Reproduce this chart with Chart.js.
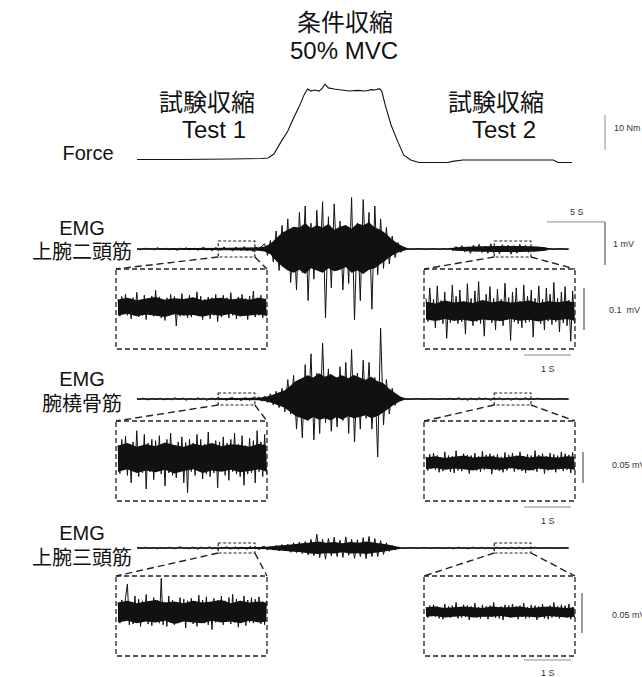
<!doctype html>
<html lang="ja">
<head>
  <meta charset="utf-8">
  <title>条件収縮 50% MVC</title>
  <style>
    * { margin: 0; padding: 0; }
    body {
      width: 642px; height: 677px; position: relative; overflow: hidden; background: white;
      font-family: "Liberation Sans", Arial, "Noto Sans CJK JP", sans-serif; color: #111;
    }
    canvas { position: absolute; }
    svg { position: absolute; left: 0; top: 0; }
    .lbl { position: absolute; transform: translate(-50%, -50%); white-space: nowrap; text-align: center; }
    .big { font-size: 24px; }
    .row { font-size: 20px; }
    .unit { position: absolute; transform: translate(0, -50%); font-size: 9px; color: #333; white-space: nowrap; }
  </style>
</head>
<body>
  <div class="lbl big" style="left:345px; top:20px;">条件収縮</div>
  <div class="lbl big" style="left:344px; top:51px;">50% MVC</div>
  <div class="lbl big" style="left:207px; top:100px;">試験収縮</div>
  <div class="lbl big" style="left:214px; top:130px;">Test 1</div>
  <div class="lbl big" style="left:496px; top:100px;">試験収縮</div>
  <div class="lbl big" style="left:504px; top:130px;">Test 2</div>

  <div class="lbl row" style="left:88px; top:153px;">Force</div>
  <div class="lbl row" style="left:82px; top:228px;">EMG</div>
  <div class="lbl row" style="left:82px; top:250px;">上腕二頭筋</div>
  <div class="lbl row" style="left:82px; top:379px;">EMG</div>
  <div class="lbl row" style="left:82px; top:402px;">腕橈骨筋</div>
  <div class="lbl row" style="left:82px; top:533px;">EMG</div>
  <div class="lbl row" style="left:82px; top:556px;">上腕三頭筋</div>

  <div class="unit" style="left:614px; top:128px;">10 Nm</div>
  <div class="unit" style="left:570px; top:212px;">5 S</div>
  <div class="unit" style="left:613px; top:244px;">1 mV</div>
  <div class="unit" style="left:609px; top:310px;">0.1&nbsp; mV</div>
  <div class="unit" style="left:541px; top:369px;">1 S</div>
  <div class="unit" style="left:612px; top:465px;">0.05 mV</div>
  <div class="unit" style="left:541px; top:521px;">1 S</div>
  <div class="unit" style="left:612px; top:615px;">0.05 mV</div>
  <div class="unit" style="left:541px; top:673px;">1 S</div>

  <canvas id="force"></canvas>
  <canvas id="emg1"></canvas>
  <canvas id="emg2"></canvas>
  <canvas id="emg3"></canvas>
  <canvas id="emg1L"></canvas>
  <canvas id="emg1R"></canvas>
  <canvas id="emg2L"></canvas>
  <canvas id="emg2R"></canvas>
  <canvas id="emg3L"></canvas>
  <canvas id="emg3R"></canvas>
  <svg id="boxes" width="642" height="677"></svg>

  <script src="https://cdn.jsdelivr.net/npm/chart.js"></script>
  <script>
    // ---- data ----
    // force (Nm) over time (s)
    const forceTimeS = [0, 3.8, 8.1, 10.7, 11.3, 11.8, 12.4, 13.0, 13.5, 14.0, 14.4, 14.7, 15.0, 15.3, 15.7, 16.0, 16.2, 16.5, 17.0, 17.6,
      18.3, 19.0, 19.7, 20.2, 20.5, 20.9, 21.1, 21.4, 21.9, 22.5, 23.0, 23.6, 24.3, 26.8, 27.2, 28.1, 31.4, 35.7, 35.9, 36.3, 37.5];
    const forceNm = [0.15, 0.15, 0.3, 0.45, 0.55, 1.7, 5.1, 8.3, 12.0, 15.4, 18.6, 20.3, 19.7, 20.0, 19.7, 20.6, 21.7, 20.6, 20.3, 20.0,
      19.7, 19.9, 19.7, 20.1, 20.0, 20.4, 19.7, 15.7, 10.0, 5.1, 1.4, 0, -0.7, -0.7, -0.4, 0, 0, 0, 0, -0.7, -0.7];

    // raw EMG (mV), one sample every 0.25 s
    const emgStepS = 0.25;
    const emgBiceps = [
      0.01,-0.02,0.0,0.02,-0.01,0.01,-0.02,0.03,0.0,-0.01,
      0.02,-0.02,0.01,0.0,-0.03,0.02,-0.01,0.03,-0.02,0.0,
      0.02,-0.03,0.01,0.04,-0.02,0.0,-0.04,0.03,0.01,-0.03,
      0.05,-0.02,0.02,-0.05,0.04,0.0,-0.03,0.06,-0.04,0.02,
      -0.06,0.05,-0.03,0.07,
      0.12,-0.15,0.2,-0.3,0.42,-0.5,0.55,-0.4,0.7,-0.78,
      0.5,-0.95,0.85,-0.55,1.0,-1.2,0.6,-0.7,0.9,-0.45,
      1.1,-1.6,0.75,-0.9,1.05,-0.5,0.65,-0.95,0.45,-0.8,
      1.2,-1.65,0.6,-1.2,1.15,-0.5,0.85,-1.4,1.0,-0.6,
      0.7,-0.45,0.5,-0.35,0.3,-0.2,0.15,-0.08,0.04,
      0.01,0,-0.01,0,0.01,0,0,-0.01,0,0.01,0,-0.01,0,0.01,-0.01,0.02,
      -0.04,0.06,-0.03,0.08,-0.07,0.05,-0.1,0.09,-0.06,0.11,
      -0.08,0.07,-0.1,0.12,-0.09,0.06,-0.11,0.1,-0.07,0.09,
      -0.12,0.08,-0.1,0.11,-0.06,0.09,-0.08,0.07,-0.06,0.05,
      -0.04,0.03,
      0,0.01,0,-0.01,0,0.01,0,-0.01,0];
    const emgBrachiorad = [
      0.01,-0.01,0.02,0.0,-0.02,0.01,0.0,-0.01,0.02,-0.02,
      0.0,0.01,-0.02,0.03,-0.01,0.0,0.02,-0.03,0.01,0.0,
      -0.02,0.03,-0.01,0.02,-0.03,0.0,0.02,-0.02,0.04,-0.01,
      0.0,-0.03,0.02,0.03,-0.02,0.0,-0.04,0.03,0.01,-0.03,
      0.04,-0.02,0.05,-0.05,0.07,-0.08,
      0.12,-0.14,0.18,-0.2,0.25,-0.3,0.45,-0.35,0.55,-0.7,
      0.4,-0.9,0.8,-0.5,1.05,-0.95,0.6,-0.8,1.3,-0.55,
      0.7,-0.75,0.45,-0.65,0.75,-0.5,0.85,-0.8,1.15,-1.0,
      0.6,-0.7,0.9,-0.45,0.85,-0.7,0.5,-1.35,1.65,-0.6,
      0.45,-0.35,0.25,-0.15,0.08,-0.04,
      0.01,0,-0.01,0,0,0.01,0,-0.01,0,0.01,0,0,-0.01,0,0.01,-0.01,
      0.02,-0.01,0.0,0.03,-0.02,0.01,-0.03,0.02,0.0,-0.02,
      0.03,-0.01,0.02,0.0,-0.03,0.02,-0.01,0.03,-0.02,0.0,
      0.02,-0.03,0.01,0.02,-0.02,0.0,0.03,-0.02,0.01,-0.01,
      0.02,0.0,-0.01,
      0,0.01,0,-0.01,0,0.01,0,0,0];
    const emgTriceps = [
      0.01,0.0,-0.01,0.02,-0.01,0.0,0.01,-0.02,0.01,0.0,
      -0.01,0.02,0.0,-0.02,0.01,0.03,-0.01,0.0,-0.02,0.02,
      0.01,-0.03,0.02,0.0,-0.01,0.03,-0.02,0.01,-0.03,0.02,
      0.0,0.03,-0.02,-0.01,0.03,-0.03,0.02,0.0,-0.03,0.04,
      -0.02,0.03,-0.04,0.02,0.04,-0.05,
      0.04,-0.05,0.06,-0.07,0.08,-0.07,0.09,-0.1,0.12,-0.11,
      0.14,-0.13,0.15,-0.16,0.2,-0.18,0.32,-0.22,0.2,-0.26,
      0.22,-0.18,0.25,-0.2,0.18,-0.22,0.26,-0.17,0.2,-0.24,
      0.19,-0.2,0.24,-0.25,0.27,-0.2,0.22,-0.2,0.17,-0.15,
      0.12,-0.08,0.06,-0.04,
      0.02,0,-0.01,0,0.01,0,0,-0.01,0,0.01,0,-0.01,0,0,0.01,0,-0.01,0,
      0.01,-0.02,0.0,0.02,-0.01,0.01,-0.02,0.0,0.02,-0.01,
      0.0,0.02,-0.02,0.01,0.0,-0.02,0.02,-0.01,0.0,0.01,
      -0.02,0.02,0.0,-0.01,0.02,-0.02,0.0,0.01,-0.01,0.02,
      0.0,-0.01,0.01,
      0,0.01,0,-0.01,0,0,0.01,0,0];

    // dense part of each trace (mV): times, upper and lower edge
    const bicepsCoreT = [0, 5, 8, 10.5, 11.0, 11.5, 12.0, 12.5, 13.0, 13.5, 14.0, 14.5, 15.0, 15.5, 16.0, 16.5, 17.0, 17.5, 18.0, 18.5,
      19.0, 19.5, 20.0, 20.5, 21.0, 21.5, 22.0, 22.5, 23.0, 23.3, 27, 27.5, 29, 31, 33, 34.5, 35.2, 35.5, 37.2];
    const bicepsCoreUp = [0.02, 0.025, 0.03, 0.04, 0.06, 0.12, 0.25, 0.38, 0.45, 0.52, 0.5, 0.6, 0.48, 0.55, 0.5, 0.58, 0.45, 0.52, 0.56, 0.47,
      0.6, 0.55, 0.62, 0.5, 0.45, 0.35, 0.22, 0.12, 0.05, 0.02, 0.02, 0.04, 0.06, 0.07, 0.07, 0.06, 0.04, 0.02, 0.02];
    const bicepsCoreDown = [-0.02, -0.025, -0.03, -0.04, -0.06, -0.12, -0.28, -0.4, -0.5, -0.55, -0.48, -0.58, -0.45, -0.5, -0.55, -0.45, -0.52, -0.48, -0.42, -0.55,
      -0.5, -0.58, -0.48, -0.45, -0.35, -0.25, -0.15, -0.08, -0.04, -0.02, -0.02, -0.04, -0.06, -0.07, -0.07, -0.06, -0.04, -0.02, -0.02];
    const brachioCoreT = [0, 6, 10.5, 11.2, 11.7, 12.2, 12.7, 13.2, 13.7, 14.2, 14.7, 15.2, 15.7, 16.2, 16.7, 17.2, 17.7, 18.2, 18.7, 19.2,
      19.7, 20.2, 20.7, 21.2, 21.7, 22.2, 22.7, 23.1, 27, 35.5, 37.2];
    const brachioCoreUp = [0.02, 0.02, 0.03, 0.06, 0.1, 0.15, 0.2, 0.3, 0.42, 0.48, 0.55, 0.5, 0.6, 0.52, 0.58, 0.5, 0.55, 0.48, 0.56, 0.5,
      0.45, 0.52, 0.42, 0.38, 0.25, 0.15, 0.06, 0.02, 0.02, 0.02, 0.02];
    const brachioCoreDown = [-0.02, -0.02, -0.03, -0.06, -0.1, -0.15, -0.2, -0.3, -0.4, -0.45, -0.5, -0.42, -0.48, -0.45, -0.5, -0.42, -0.48, -0.4, -0.45, -0.42,
      -0.38, -0.45, -0.4, -0.32, -0.22, -0.12, -0.05, -0.02, -0.02, -0.02, -0.02];
    const tricepsCoreT = [0, 6, 10.5, 11.2, 12.0, 12.8, 13.5, 14.2, 14.9, 15.6, 16.3, 17.0, 17.7, 18.4, 19.1, 19.8, 20.5, 21.2, 21.8, 22.3,
      22.7, 27, 35.5, 37.2];
    const tricepsCoreUp = [0.015, 0.02, 0.025, 0.03, 0.05, 0.07, 0.09, 0.11, 0.13, 0.15, 0.12, 0.14, 0.11, 0.14, 0.12, 0.15, 0.12, 0.1, 0.07, 0.04,
      0.02, 0.015, 0.015, 0.015];
    const tricepsCoreDown = [-0.015, -0.02, -0.025, -0.03, -0.05, -0.07, -0.09, -0.1, -0.13, -0.14, -0.12, -0.13, -0.1, -0.13, -0.12, -0.14, -0.11, -0.09, -0.06, -0.04,
      -0.02, -0.015, -0.015, -0.015];

    // zoomed windows (start time, s) for Test 1 / Test 2
    const zoomStartS = [7.0, 30.8];

    // zoomed EMG (µV), one sample every 0.04 s
    const insetStepS = 0.04;
    const bicepsTest1 = [
      18,-22,25,-15,30,-20,12,-28,22,-18,35,-24,16,-20,28,-30,20,-14,26,-22,
      40,-18,24,-26,15,-32,22,-20,30,-16,25,-45,18,-22,32,-20,14,-26,28,-24,
      20,-18,36,-22,26,-30,18,-16,24,-28,22,-20,30,-35,16,-24,28,-18,22,-26,
      34,-20,18,-28,24,-22,30,-16,20,-30,26,-18,38,-24,22,-20,28,-26,18,-22];
    const bicepsTest2 = [
      30,-25,55,-20,28,-40,60,-22,25,-30,45,-65,20,-28,62,-24,35,-30,50,-26,
      22,-55,65,-20,30,-35,48,-25,70,-30,26,-60,40,-22,58,-28,30,-45,52,-24,
      28,-35,66,-20,32,-70,45,-26,55,-30,24,-40,62,-28,35,-25,50,-62,30,-22,
      60,-30,28,-45,55,-24,40,-32,68,-26,30,-50,45,-28,58,-35,26,-72,48,-30];
    const brachioTest1 = [
      20,-25,30,-18,35,-28,22,-40,26,-20,44,-30,18,-24,38,-50,24,-22,30,-35,
      28,-20,36,-26,22,-45,30,-24,40,-28,20,-32,26,-22,34,-40,25,-56,30,-22,
      24,-28,38,-20,30,-34,22,-26,42,-30,20,-24,28,-48,26,-20,34,-28,24,-36,
      30,-22,40,-26,22,-30,36,-44,20,-26,32,-24,28,-40,44,-22,26,-30,38,-25];
    const brachioTest2 = [
      10,-12,14,-9,16,-11,12,-15,9,-13,18,-10,12,-14,11,-16,20,-12,10,-13,
      15,-9,13,-17,12,-10,16,-12,11,-14,19,-11,13,-10,15,-18,12,-11,14,-13,
      10,-15,17,-12,13,-9,16,-14,12,-11,18,-13,11,-16,14,-10,12,-12,20,-14,
      13,-10,15,-17,11,-12,16,-11,14,-15,12,-10,18,-13,15,-11,13,-16,17,-12];
    const tricepsTest1 = [
      12,-14,15,-10,18,35,-16,12,-15,20,-12,16,-18,14,-11,22,-15,13,-17,18,
      -12,15,-14,42,-16,12,-18,20,-13,15,-16,11,-14,18,-12,16,-20,14,-11,17,
      -15,13,-18,21,-12,15,-14,19,-16,12,-22,17,-13,15,-11,20,-16,14,-12,18,
      -15,22,-13,16,-19,14,-12,20,-17,15,-13,18,-14,16,-12,19,-15,13,-16,14];
    const tricepsTest2 = [
      6,-7,8,-5,9,-6,7,-8,5,-9,10,-6,7,-7,8,-5,12,-8,6,-7,
      9,-6,8,-10,7,-5,11,-7,6,-8,9,-6,7,-9,8,-6,12,-7,6,-8,
      7,-10,9,-6,8,-7,10,-5,7,-9,8,-6,11,-8,6,-7,9,-6,8,-10,
      7,-6,10,-8,6,-9,8,-7,12,-6,7,-8,9,-5,8,-7,10,-9,6,-7];

    // dense band of each zoom (µV), edge every 0.2 s
    const insetCoreT = [0, 0.2, 0.4, 0.6, 0.8, 1.0, 1.2, 1.4, 1.6, 1.8, 2.0, 2.2, 2.4, 2.6, 2.8, 3.0, 3.16];
    const bicepsT1Up = [18, 22, 16, 20, 24, 17, 21, 19, 23, 16, 20, 22, 18, 21, 17, 22, 19];
    const bicepsT1Down = [-20, -16, -22, -18, -21, -24, -17, -20, -19, -23, -18, -21, -16, -22, -20, -18, -21];
    const bicepsT2Up = [22, 18, 25, 20, 23, 19, 26, 21, 24, 20, 22, 25, 19, 23, 21, 24, 20];
    const bicepsT2Down = [-20, -24, -19, -23, -21, -25, -20, -22, -24, -19, -23, -21, -25, -20, -22, -19, -23];
    const brachioT1Up = [20, 24, 18, 22, 19, 25, 21, 18, 23, 20, 24, 19, 22, 21, 18, 23, 20];
    const brachioT1Down = [-22, -18, -24, -20, -23, -19, -25, -21, -18, -24, -20, -22, -19, -23, -21, -18, -22];
    const brachioT2Up = [9, 11, 8, 10, 12, 9, 10, 11, 8, 10, 12, 9, 11, 10, 9, 11, 10];
    const brachioT2Down = [-10, -8, -11, -9, -10, -12, -9, -10, -11, -8, -10, -12, -9, -11, -10, -9, -11];
    const tricepsT1Up = [12, 14, 11, 13, 15, 12, 13, 11, 14, 12, 13, 15, 11, 14, 12, 13, 12];
    const tricepsT1Down = [-13, -11, -14, -12, -13, -11, -15, -12, -13, -14, -11, -13, -12, -14, -11, -13, -12];
    const tricepsT2Up = [6, 7, 5, 6, 7, 6, 5, 7, 6, 6, 7, 5, 6, 7, 6, 5, 6];
    const tricepsT2Down = [-6, -5, -7, -6, -5, -7, -6, -6, -5, -7, -6, -6, -7, -5, -6, -7, -6];

    // scale bars: 10 Nm, 5 S, 1 mV, 1 S, 0.1 mV, 0.05 mV, 0.05 mV
    const barNm = 10, barMainS = 5, barMainMv = 1, barInsetS = 1;
    const barInsetUv = [100, 50, 50];

    // ---- layout ----
    const pxPerSec = 11.6, pxPerNm = 3.5, pxPerMv = 43, insetPxPerSec = 47;
    const insetPxPerUv = [0.42, 0.62, 0.8];
    const mainLeft = 130, traceZeroX = 137;
    const baselineY = [249, 399, 548];
    const insetTop = [269, 421, 576], insetH = 80, insetW = 151;
    const insetLeft = [116, 424];
    const insetMid = [[307, 311], [458, 463], [612, 612]];
    const smallHalfH = [8, 6, 5];
    const ink = '#111', barGray = '#8c8c8c';

    function pts(times, values) {
      return values.map((v, i) => ({ x: times[i], y: v }));
    }
    function sampled(values, step) {
      return values.map((v, i) => ({ x: i * step, y: v }));
    }
    function line(data, color, width) {
      return { data, borderColor: color, borderWidth: width, pointRadius: 0, fill: false, tension: 0 };
    }
    function band(times, up, down) {
      return [
        { data: pts(times, up), borderWidth: 0, pointRadius: 0, fill: false, tension: 0 },
        { data: pts(times, down), borderWidth: 0, pointRadius: 0, fill: '-1', backgroundColor: ink, tension: 0 }
      ];
    }

    // chart whose scales map straight onto the canvas
    function traceChart(id, box, zeroX, xPer, zeroY, yPer, datasets) {
      const cv = document.getElementById(id);
      cv.width = box.w; cv.height = box.h;
      cv.style.left = box.x + 'px'; cv.style.top = box.y + 'px';
      return new Chart(cv, {
        type: 'line',
        data: { datasets },
        options: {
          responsive: false, animation: false, events: [],
          layout: { padding: 0 },
          plugins: { legend: { display: false }, tooltip: { enabled: false } },
          scales: {
            x: { type: 'linear', display: false, min: -zeroX / xPer, max: (box.w - zeroX) / xPer },
            y: { type: 'linear', display: false, min: (zeroY - box.h) / yPer, max: zeroY / yPer }
          }
        }
      });
    }

    const xZero = traceZeroX - mainLeft;
    const barT = (605 - traceZeroX) / pxPerSec;

    // force
    traceChart('force', { x: mainLeft, y: 70, w: 642 - mainLeft, h: 100 }, xZero, pxPerSec, 90, pxPerNm, [
      line(pts(forceTimeS, forceNm), ink, 1.1),
      line([{ x: barT, y: 2.9 }, { x: barT, y: 2.9 + barNm }], barGray, 1)
    ]);

    // main EMG rows
    const mainRows = [
      { id: 'emg1', top: 185, h: 150, raw: emgBiceps, core: band(bicepsCoreT, bicepsCoreUp, bicepsCoreDown) },
      { id: 'emg2', top: 320, h: 150, raw: emgBrachiorad, core: band(brachioCoreT, brachioCoreUp, brachioCoreDown) },
      { id: 'emg3', top: 520, h: 55, raw: emgTriceps, core: band(tricepsCoreT, tricepsCoreUp, tricepsCoreDown) }
    ];
    const mainCharts = mainRows.map((r, k) => {
      const sets = r.core.concat([line(sampled(r.raw, emgStepS), ink, 1)]);
      if (k === 0) {
        const top = 0.63;
        sets.push(line([{ x: barT - barMainS, y: top }, { x: barT, y: top }, { x: barT, y: top - barMainMv }], barGray, 1));
      }
      return traceChart(r.id, { x: mainLeft, y: r.top, w: 642 - mainLeft, h: r.h }, xZero, pxPerSec,
        baselineY[k] - r.top, pxPerMv, sets);
    });

    // zoomed insets
    const insetData = [[bicepsTest1, bicepsTest2], [brachioTest1, brachioTest2], [tricepsTest1, tricepsTest2]];
    const insetCore = [
      [[bicepsT1Up, bicepsT1Down], [bicepsT2Up, bicepsT2Down]],
      [[brachioT1Up, brachioT1Down], [brachioT2Up, brachioT2Down]],
      [[tricepsT1Up, tricepsT1Down], [tricepsT2Up, tricepsT2Down]]
    ];
    const insetBarY = [355, 507, 660];
    const insetBarX = [584, 583, 582];
    const insetBarTop = [288, 452, 593];
    const ids = [['emg1L', 'emg1R'], ['emg2L', 'emg2R'], ['emg3L', 'emg3R']];
    for (let k = 0; k < 3; k++) {
      for (let s = 0; s < 2; s++) {
        const vals = insetData[k][s];
        const sets = band(insetCoreT, insetCore[k][s][0], insetCore[k][s][1]);
        sets.push(line(sampled(vals, insetStepS), ink, 1));
        const box = { x: insetLeft[s], y: insetTop[k], w: s ? 642 - insetLeft[s] : insetW, h: s ? 95 : insetH };
        const mid = insetMid[k][s];
        const per = insetPxPerUv[k];
        if (s === 1) {
          const t0 = (insetBarX[k] - insetLeft[s] - 2) / insetPxPerSec;
          const hi = (mid - insetBarTop[k]) / per;
          sets.push(line([{ x: t0, y: hi }, { x: t0, y: hi - barInsetUv[k] }], barGray, 1));
          const yb = (mid - insetBarY[k]) / per;
          const tb = (571 - insetLeft[s] - 2) / insetPxPerSec;
          sets.push(line([{ x: tb - barInsetS, y: yb }, { x: tb, y: yb }], barGray, 1.2));
        }
        traceChart(ids[k][s], box, 2, insetPxPerSec, mid - box.y, per, sets);
      }
    }

    // dashed zoom frames and connectors
    const svg = document.getElementById('boxes');
    let svgText = '';
    const win = (bicepsTest1.length - 1) * insetStepS;
    mainCharts.forEach((ch, k) => {
      zoomStartS.forEach((t, s) => {
        const x1 = mainLeft + ch.scales.x.getPixelForValue(t);
        const x2 = mainLeft + ch.scales.x.getPixelForValue(t + win);
        const y1 = baselineY[k] - smallHalfH[k], y2 = baselineY[k] + smallHalfH[k];
        const bx = insetLeft[s], by = insetTop[k];
        svgText += `<rect x="${x1}" y="${y1}" width="${x2 - x1}" height="${y2 - y1}" fill="none" stroke="#222" stroke-width="1.2" stroke-dasharray="3 2"/>`;
        svgText += `<rect x="${bx}" y="${by}" width="${insetW}" height="${insetH}" fill="none" stroke="#222" stroke-width="1.3" stroke-dasharray="5 3"/>`;
        svgText += `<line x1="${x1}" y1="${y2}" x2="${bx}" y2="${by}" stroke="#222" stroke-width="1.4" stroke-dasharray="7 4"/>`;
        svgText += `<line x1="${x2}" y1="${y2}" x2="${bx + insetW}" y2="${by}" stroke="#222" stroke-width="1.4" stroke-dasharray="7 4"/>`;
      });
    });
    svg.innerHTML = svgText;
  </script>
</body>
</html>
